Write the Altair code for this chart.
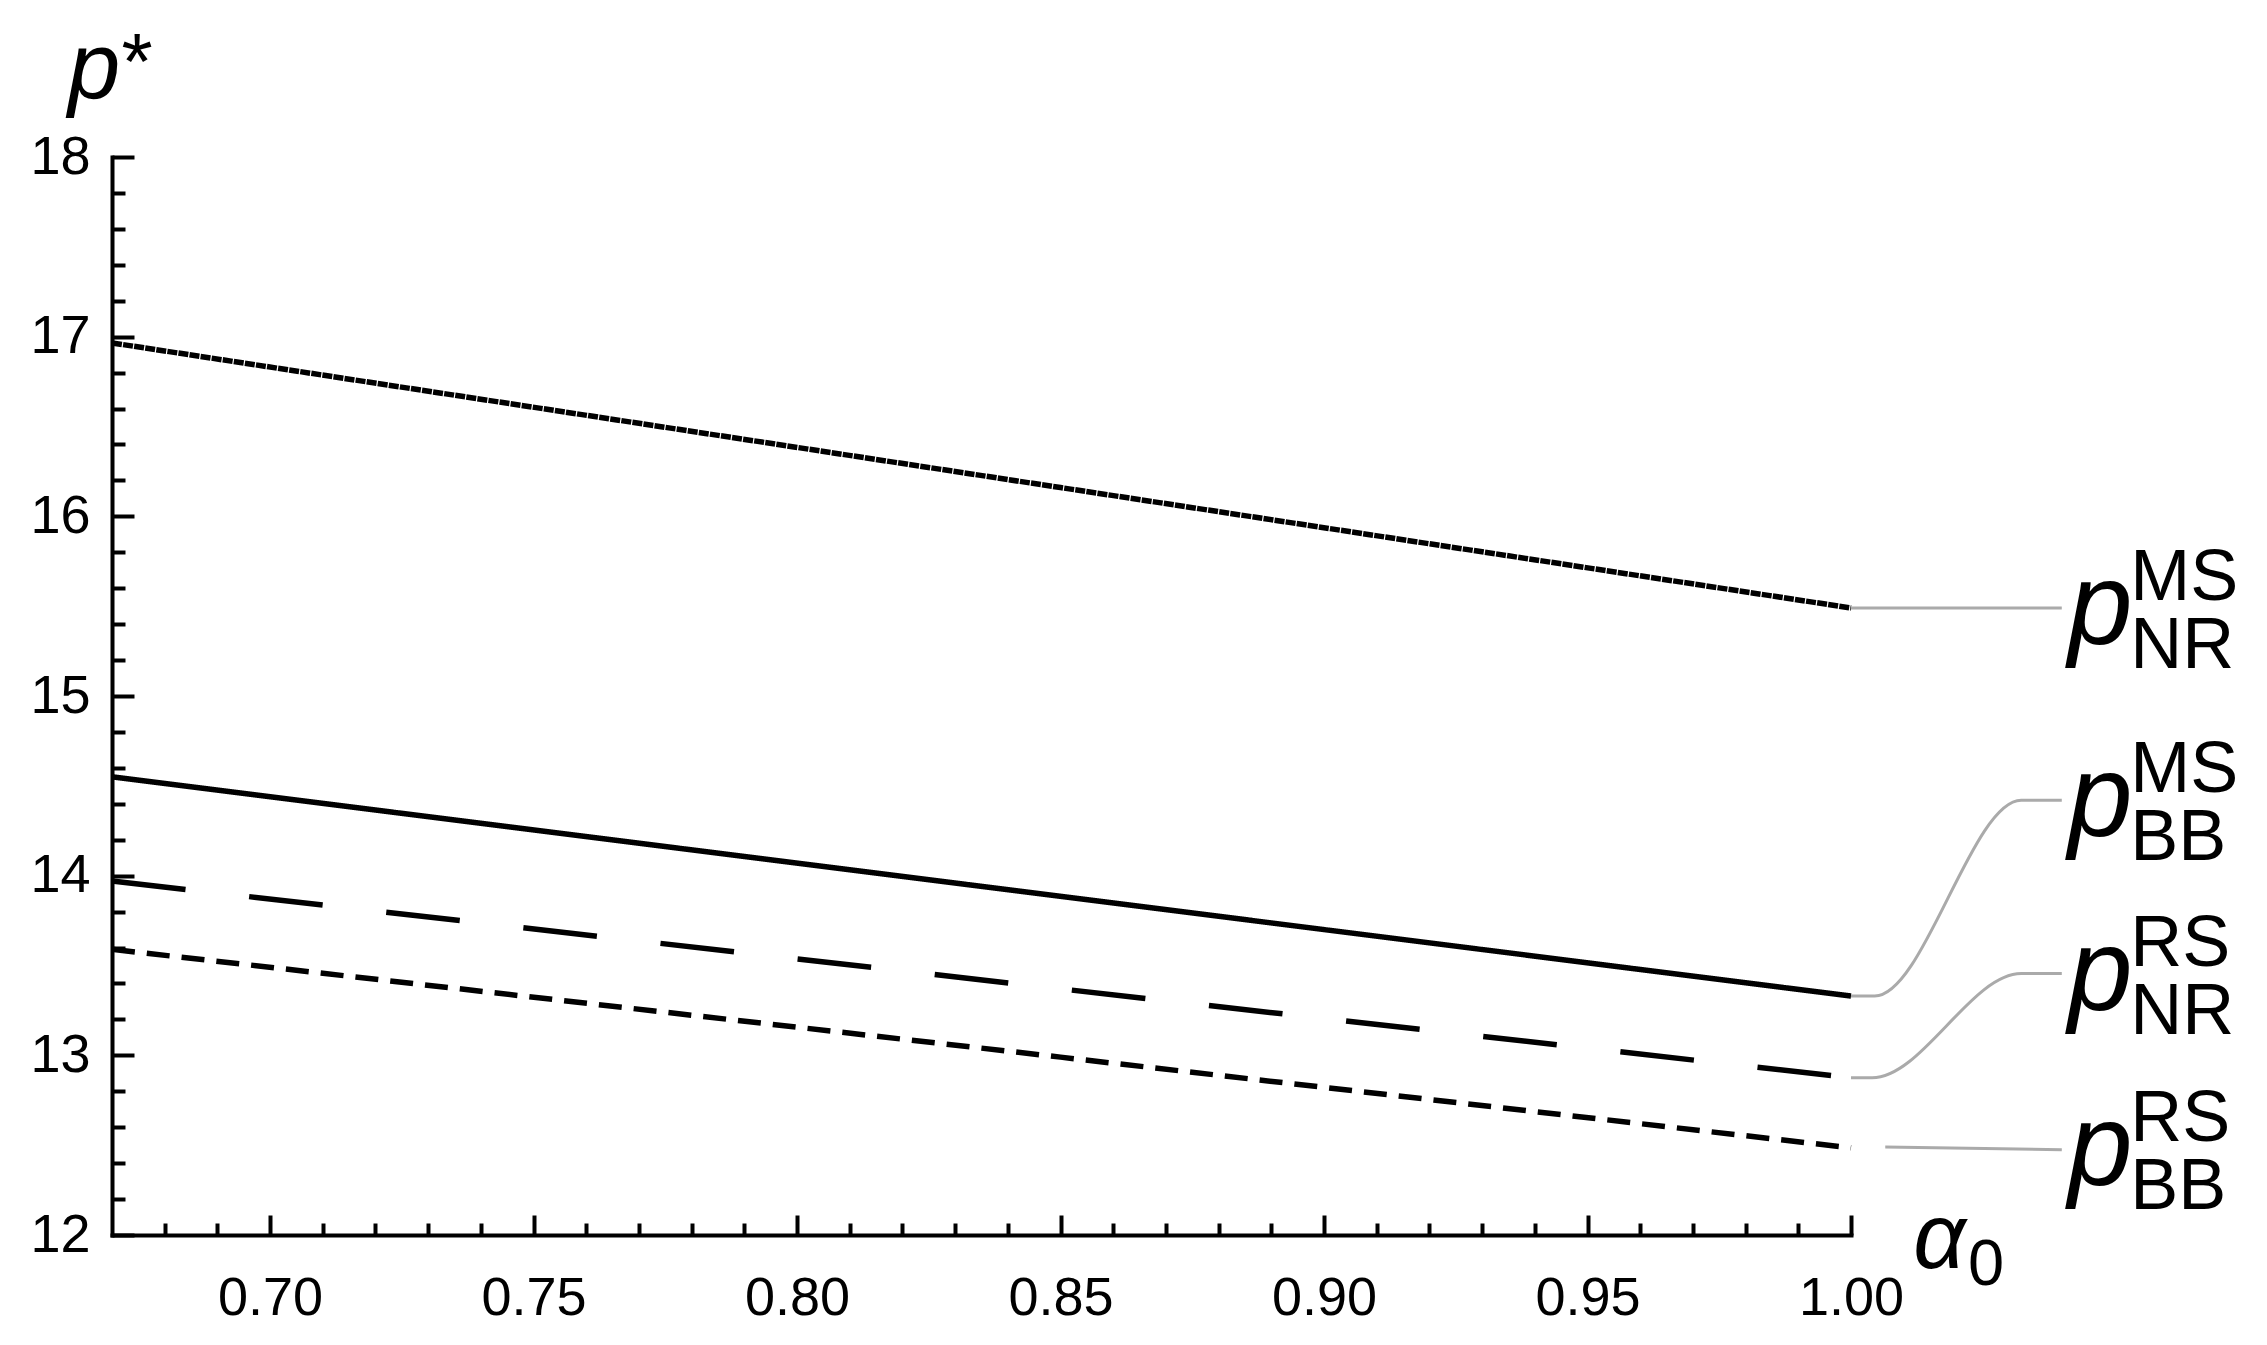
import altair as alt
import pandas as pd

# ---------------- data ----------------
alpha = [0.67, 0.85, 1.00]
p_nr_ms = [16.965, 16.16, 15.49]
p_bb_ms = [14.55, 13.885, 13.33]
p_nr_rs = [13.97, 13.37, 12.875]
p_bb_rs = [13.59, 12.99, 12.485]

series_keys = ["NR_MS", "BB_MS", "NR_RS", "BB_RS"]
series_dash = [[10, 1.2], [1, 0], [74, 64], [23, 12]]

x_major = [0.70, 0.75, 0.80, 0.85, 0.90, 0.95, 1.00]
x_minor = [round(0.67 + 0.01 * i, 2) for i in range(34)]
x_minor = [v for v in x_minor if v not in x_major and v > 0.67]
y_major = [12, 13, 14, 15, 16, 17, 18]
y_minor = [round(12 + 0.2 * i, 1) for i in range(31)]
y_minor = [v for v in y_minor if v not in y_major]

# labels at the right end
lab_sup = ["MS", "MS", "RS", "RS"]
lab_sub = ["NR", "BB", "NR", "BB"]
lab_y = [15.49, 14.42, 13.455, 12.48]

# leader lines (gray connectors)
lead_series = ["NR_MS", "NR_MS",
               "BB_MS", "BB_MS", "BB_MS", "BB_MS",
               "NR_RS", "NR_RS", "NR_RS", "NR_RS",
               "BB_RS", "BB_RS"]
lead_x = [1.000, 1.040,
          1.000, 1.0045, 1.0323, 1.040,
          1.000, 1.0040, 1.0323, 1.040,
          1.0065, 1.040]
lead_y = [15.49, 15.49,
          13.33, 13.33, 14.42, 14.42,
          12.875, 12.875, 13.455, 13.455,
          12.49, 12.475]

W, H = 1739, 1078
FONT = "Liberation Sans"

rows = []
for key, vals in zip(series_keys, [p_nr_ms, p_bb_ms, p_nr_rs, p_bb_rs]):
    for a, v in zip(alpha, vals):
        rows.append({"series": key, "alpha": a, "p": v})
df_lines = pd.DataFrame(rows)
df_lead = pd.DataFrame({"series": lead_series, "lx": lead_x, "ly": lead_y})
df_lab = pd.DataFrame({"sup": lab_sup, "sub": lab_sub, "ly": lab_y,
                       "px": [1.0412] * 4, "sx": [1.0530] * 4, "pt": ["p"] * 4})
df_ptitle = pd.DataFrame({"x": [0.66165], "y": [18.328], "t": ["p"]})
df_star = pd.DataFrame({"x": [0.6718], "y": [18.378], "t": ["*"]})
df_alpha = pd.DataFrame({"x": [1.0118], "y": [11.817], "t": ["α"]})
df_zero = pd.DataFrame({"x": [1.0222], "y": [11.723], "t": ["0"]})

xs = alt.Scale(domain=[0.67, 1.0], nice=False, zero=False)
ys = alt.Scale(domain=[12, 18], nice=False, zero=False)

common = dict(grid=False, title=None)
ax_x_main = alt.Axis(orient="bottom", values=x_major, format=".2f", ticks=False, tickSize=0,
                     labelFontSize=54, labelFont=FONT, labelColor="black", labelPadding=36,
                     labelFlush=False, labelOverlap=False, domain=True, domainColor="black",
                     domainWidth=4, domainCap="square", **common)
ax_y_main = alt.Axis(orient="left", values=y_major, ticks=False, tickSize=0,
                     labelFontSize=54, labelFont=FONT, labelColor="black", labelPadding=22,
                     labelFlush=False, labelOverlap=False, domain=True, domainColor="black",
                     domainWidth=4, domainCap="square", **common)
ax_x_maj = alt.Axis(orient="top", offset=-H, values=x_major, labels=False, domain=False,
                    tickSize=20, tickWidth=4, tickColor="black", **common)
ax_x_min = alt.Axis(orient="top", offset=-H, values=x_minor, labels=False, domain=False,
                    tickSize=12, tickWidth=4, tickColor="black", **common)
ax_y_maj = alt.Axis(orient="right", offset=-W, values=y_major, labels=False, domain=False,
                    tickSize=22, tickWidth=4, tickColor="black", **common)
ax_y_min = alt.Axis(orient="right", offset=-W, values=y_minor, labels=False, domain=False,
                    tickSize=13, tickWidth=4, tickColor="black", **common)

lines = alt.Chart(df_lines).mark_line(color="black", strokeWidth=5.5, strokeCap="butt").encode(
    x=alt.X("alpha:Q", scale=xs, axis=ax_x_main),
    y=alt.Y("p:Q", scale=ys, axis=ax_y_main),
    strokeDash=alt.StrokeDash("series:N", scale=alt.Scale(domain=series_keys, range=series_dash),
                              legend=None),
    detail="series:N",
)

leaders = alt.Chart(df_lead).mark_line(color="#aaaaaa", strokeWidth=3, interpolate="monotone").encode(
    x=alt.X("lx:Q", scale=xs, axis=ax_x_maj),
    y=alt.Y("ly:Q", scale=ys, axis=ax_y_maj),
    detail="series:N",
)

p_text = alt.Chart(df_lab).mark_text(font=FONT, fontStyle="italic", fontSize=116, align="left",
                                     baseline="alphabetic", dy=36, color="black").encode(
    x=alt.X("px:Q", scale=xs, axis=ax_x_min),
    y=alt.Y("ly:Q", scale=ys, axis=ax_y_min),
    text="pt:N",
)
sup_text = alt.Chart(df_lab).mark_text(font=FONT, fontSize=72, align="left",
                                       baseline="alphabetic", dy=-8, color="black").encode(
    x=alt.X("sx:Q", scale=xs, axis=None),
    y=alt.Y("ly:Q", scale=ys, axis=None),
    text="sup:N",
)
sub_text = alt.Chart(df_lab).mark_text(font=FONT, fontSize=72, align="left",
                                       baseline="alphabetic", dy=60, color="black").encode(
    x=alt.X("sx:Q", scale=xs, axis=None),
    y=alt.Y("ly:Q", scale=ys, axis=None),
    text="sub:N",
)


def txt(df, size, italic):
    kw = dict(font=FONT, fontSize=size, align="left", baseline="alphabetic", color="black")
    if italic:
        kw["fontStyle"] = "italic"
    return alt.Chart(df).mark_text(**kw).encode(
        x=alt.X("x:Q", scale=xs, axis=None),
        y=alt.Y("y:Q", scale=ys, axis=None),
        text="t:N",
    )


chart = alt.layer(
    lines, leaders, p_text, sup_text, sub_text,
    txt(df_ptitle, 94, True), txt(df_star, 80, False),
    txt(df_alpha, 92, True), txt(df_zero, 65, False),
).resolve_axis(x="independent", y="independent").properties(
    width=W, height=H,
    autosize=alt.AutoSizeParams(type="none"),
    padding={"left": 104, "top": 149, "right": 390, "bottom": 90},
    background="white",
).configure_view(stroke=None)

chart.save("out.html", embed_options={"renderer": "svg", "actions": False})
